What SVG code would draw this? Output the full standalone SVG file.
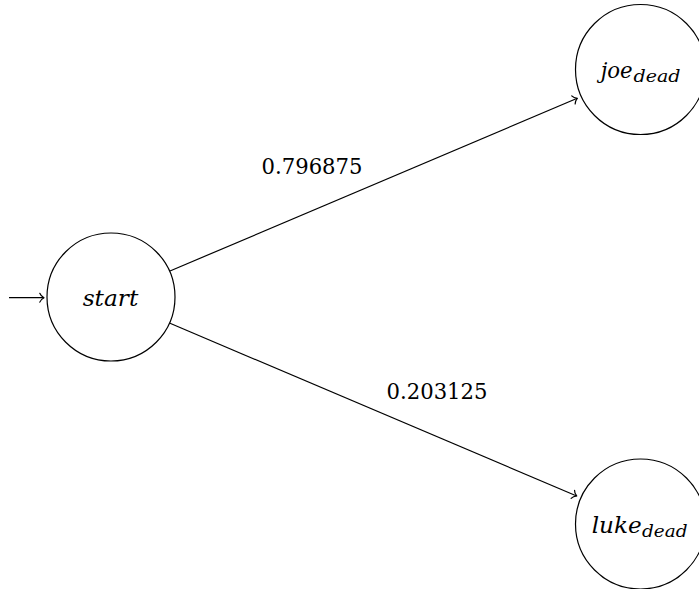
<svg xmlns="http://www.w3.org/2000/svg" width="699" height="589" viewBox="0 0 699 589">
  <style>
    .state { fill: #ffffff; stroke: #000000; stroke-width: 1.2; }
    .edge { fill: none; stroke: #000000; stroke-width: 1.2; marker-end: url(#tip); }
    text { font-family: 'DejaVu Serif', 'Liberation Serif', serif; fill: #000000; }
    .name { font-style: italic; font-size: 23px; }
    .sub { font-size: 16px; }
    .weight { font-size: 23px; text-anchor: middle; }
  </style>
  <defs>
    <marker id="tip" markerUnits="userSpaceOnUse" markerWidth="12" markerHeight="12" viewBox="-6 -6 12 12" refX="0" refY="0" orient="auto" overflow="visible">
      <path d="M -4.2 -4.4 C -3.3 -2 -1 -0.5 0 0 C -1 0.5 -3.3 2 -4.2 4.4" fill="none" stroke="#000000" stroke-width="1.2" stroke-linecap="round" stroke-linejoin="round"/>
    </marker>
  </defs>

  <!-- transitions -->
  <g id="connectors">
    <line class="edge" x1="9" y1="297.7" x2="44" y2="297.7"/>
    <line class="edge" x1="170" y1="271" x2="577.3" y2="98.3"/>
    <line class="edge" x1="170" y1="323.3" x2="576.7" y2="496"/>
    <text class="weight" x="312" y="174.3" textLength="101" lengthAdjust="spacingAndGlyphs">0.796875</text>
    <text class="weight" x="437" y="399.3" textLength="101" lengthAdjust="spacingAndGlyphs">0.203125</text>
  </g>

  <g id="start">
    <circle class="state" cx="111" cy="297" r="64"/>
    <text class="name" x="82.7" y="306" textLength="55.6" lengthAdjust="spacingAndGlyphs">start</text>
  </g>

  <g id="joe_dead">
    <circle class="state" cx="640.5" cy="69.5" r="65"/>
    <text class="name" x="600.7" y="77.7"><tspan textLength="32" lengthAdjust="spacingAndGlyphs">joe</tspan><tspan class="sub" x="633.5" y="81.7" textLength="47" lengthAdjust="spacingAndGlyphs">dead</tspan></text>
  </g>

  <g id="luke_dead">
    <circle class="state" cx="640.5" cy="524" r="65"/>
    <text class="name" x="591.7" y="532.7"><tspan textLength="50" lengthAdjust="spacingAndGlyphs">luke</tspan><tspan class="sub" x="642" y="536.7" textLength="45.5" lengthAdjust="spacingAndGlyphs">dead</tspan></text>
  </g>
</svg>
